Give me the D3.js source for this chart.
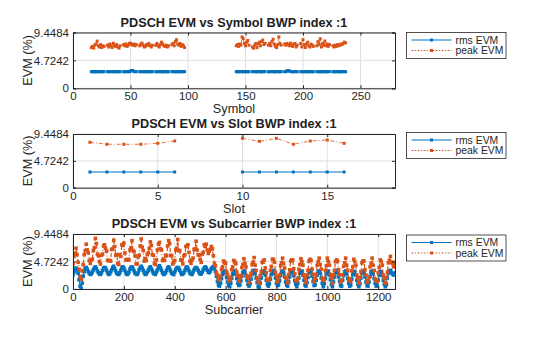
<!DOCTYPE html>
<html>
<head>
<meta charset="utf-8">
<script src="https://cdn.jsdelivr.net/npm/d3@7"></script>
<style>
  html, body { margin: 0; padding: 0; background: #fff; }
  svg { display: block; font-family: "Liberation Sans", Arial, Helvetica, sans-serif; }
</style>
</head>
<body>
<svg id="fig" width="560" height="337"></svg>
<script>
// ---- data ----
const yTicks = [0, 4.7242, 9.4484];
const yTickLabels = ["0", "4.7242", "9.4484"];

// slots carrying PDSCH
const slots = [1, 2, 3, 4, 5, 6, 10, 11, 12, 13, 14, 15, 16];
const firstPdschSymbol = 2;
const symbolsPerSlot = 14;

// per-symbol EVM (12 PDSCH symbols per slot)
const rmsSymbol = [
  [2.82, 2.80, 2.83, 2.81, 2.79, 2.82, 2.84, 2.80, 2.81, 2.83, 2.80, 2.82],
  [2.81, 2.83, 2.80, 2.82, 2.84, 2.81, 2.80, 2.82, 2.83, 2.81, 2.80, 2.82],
  [2.80, 2.82, 2.81, 2.83, 2.82, 2.80, 2.95, 2.98, 3.02, 2.84, 2.81, 2.82],
  [2.82, 2.81, 2.83, 2.80, 2.82, 2.81, 2.83, 2.82, 2.80, 2.81, 2.83, 2.82],
  [2.81, 2.80, 2.82, 2.83, 2.81, 2.82, 2.80, 2.81, 2.83, 2.82, 2.80, 2.81],
  [2.83, 2.81, 2.82, 2.80, 2.81, 2.83, 2.82, 2.80, 2.81, 2.82, 2.83, 2.81],
  [2.82, 2.80, 2.81, 2.83, 2.82, 2.81, 2.80, 2.82, 2.83, 2.81, 2.82, 2.80],
  [2.81, 2.83, 2.82, 2.80, 2.81, 2.82, 2.83, 2.81, 2.80, 2.82, 2.81, 2.83],
  [2.80, 2.82, 2.81, 2.83, 2.82, 2.80, 2.81, 2.83, 2.82, 2.81, 2.80, 2.82],
  [2.82, 2.81, 2.92, 3.00, 2.96, 2.84, 2.82, 2.80, 2.81, 2.83, 2.82, 2.81],
  [2.81, 2.82, 2.80, 2.83, 2.81, 2.82, 2.80, 2.81, 2.83, 2.82, 2.81, 2.80],
  [2.83, 2.81, 2.82, 2.80, 2.82, 2.81, 2.83, 2.82, 2.80, 2.81, 2.82, 2.83],
  [2.82, 2.80, 2.81, 2.82, 2.83, 2.81, 2.80, 2.82, 2.81, 2.83, 2.82, 2.80]
];
const peakSymbol = [
  [6.9, 7.1, 6.8, 7.3, 7.5, 7.99, 7.2, 7.0, 7.4, 6.9, 7.2, 7.1],
  [7.3, 7.0, 7.5, 7.2, 6.9, 7.64, 7.3, 7.1, 7.4, 7.0, 6.8, 7.2],
  [7.4, 7.2, 7.5, 7.1, 7.3, 7.6, 7.64, 7.4, 7.3, 7.5, 7.2, 7.4],
  [7.2, 7.5, 7.64, 7.3, 7.0, 7.1, 7.4, 7.3, 7.6, 7.2, 7.0, 7.3],
  [7.3, 7.6, 7.2, 7.0, 7.4, 7.81, 7.5, 7.2, 7.1, 7.3, 7.0, 7.2],
  [7.4, 7.6, 7.2, 7.9, 8.22, 7.5, 7.3, 7.6, 7.1, 7.4, 7.2, 6.9],
  [7.2, 7.4, 7.1, 7.5, 7.3, 8.69, 8.4, 7.6, 7.2, 7.8, 8.1, 7.3],
  [7.0, 6.8, 7.3, 7.6, 6.9, 7.5, 7.8, 7.2, 7.9, 8.16, 7.4, 7.6],
  [7.3, 7.6, 7.2, 7.9, 8.3, 7.5, 7.1, 6.9, 7.4, 8.69, 7.6, 7.3],
  [7.5, 7.3, 7.6, 7.4, 7.2, 7.64, 7.3, 7.1, 7.5, 7.6, 7.0, 7.3],
  [7.6, 7.0, 8.22, 7.4, 6.9, 7.5, 7.8, 7.2, 7.0, 7.5, 7.3, 7.1],
  [7.2, 7.9, 7.4, 8.39, 7.0, 7.6, 7.3, 8.0, 7.2, 7.5, 7.1, 7.4],
  [7.2, 7.0, 7.3, 7.1, 7.4, 7.2, 7.3, 7.5, 7.4, 7.6, 7.81, 7.7]
];

// per-slot EVM
const rmsSlot  = [2.76, 2.76, 2.76, 2.76, 2.76, 2.76, 2.76, 2.76, 2.76, 2.76, 2.76, 2.76, 2.76];
const peakSlot = [7.99, 7.64, 7.64, 7.64, 7.81, 8.22, 8.69, 8.16, 8.69, 7.64, 8.22, 8.39, 7.81];

// per-subcarrier EVM, every 4th subcarrier
const subcarrierStep = 4;
const rmsSubcarrier = [
  2.4, 2.9, 3.4, 3.6, 3.3, 2.7, 1.6, 0.5, 0.1,
  1.0, 2.2, 3.0, 3.5, 3.7, 3.4, 3.0, 2.7, 2.5,
  2.6, 2.9, 3.3, 3.6, 3.8, 3.5, 3.1, 2.8, 2.6,
  2.5, 2.8, 3.2, 3.6, 3.7, 3.6, 3.2, 2.8, 2.5,
  2.6, 2.9, 3.3, 3.7, 3.9, 3.5, 3.1, 2.7, 2.6,
  2.5, 2.8, 3.2, 3.6, 3.8, 3.6, 3.2, 2.8, 2.5,
  2.6, 2.9, 3.4, 3.7, 3.8, 3.5, 3.1, 2.7, 2.6,
  2.5, 2.8, 3.3, 3.6, 3.9, 3.6, 3.2, 2.8, 2.5,
  2.6, 2.9, 3.2, 3.6, 3.8, 3.5, 3.1, 2.7, 2.6,
  2.5, 2.9, 3.3, 3.7, 4.0, 3.6, 3.2, 2.8, 2.5,
  2.6, 2.8, 3.2, 3.6, 3.8, 3.5, 3.1, 2.7, 2.6,
  2.5, 2.9, 3.3, 3.6, 3.7, 3.6, 3.2, 2.8, 2.5,
  2.6, 2.8, 3.2, 3.6, 3.8, 3.5, 3.1, 2.7, 2.6,
  2.5, 2.9, 3.3, 3.6, 3.7, 3.5, 3.2, 2.8, 2.6,
  2.6, 2.9, 3.3, 3.6, 3.8, 3.6, 3.2, 2.9, 2.8,
  3.1, 3.5, 3.7,
  3.8, 3.5, 3.0, 2.2, 1.3, 0.7, 0.5, 1.0, 1.8,
  2.5, 2.9, 3.1, 2.8, 2.0, 1.2, 0.6, 0.4, 1.0,
  1.8, 2.5, 3.0, 3.1, 2.6, 1.8, 1.0, 0.6, 0.7,
  1.4, 2.2, 2.8, 3.1, 2.9, 2.3, 1.5, 0.8, 0.5,
  0.9, 1.7, 2.5, 3.0, 3.2, 2.7, 1.9, 1.1, 0.4,
  0.3, 1.0, 1.9, 2.7, 3.1, 3.0, 2.4, 1.5, 0.8,
  0.5, 0.9, 1.7, 2.5, 3.0, 3.2, 2.7, 1.9, 1.0,
  0.6, 0.7, 1.4, 2.3, 2.9, 3.1, 2.8, 2.1, 1.2,
  0.7, 0.5, 1.2, 2.1, 2.8, 3.1, 2.9, 2.3, 1.4,
  0.8, 0.4, 1.0, 1.9, 2.7, 3.1, 3.0, 2.4, 1.5,
  0.7, 0.5, 1.1, 2.0, 2.8, 3.2, 2.9, 2.2, 1.3,
  0.6, 0.7, 1.5, 2.4, 3.0, 3.1, 2.7, 1.9, 1.0,
  0.4, 0.9, 1.8, 2.6, 3.1, 3.0, 2.4, 1.6, 0.8,
  0.4, 1.2, 2.1, 2.8, 3.2, 2.8, 2.1, 1.3, 0.6,
  0.5, 1.5, 2.3, 2.9, 3.1, 2.6, 1.8, 1.0, 0.5,
  0.7, 1.7, 2.5, 3.0, 3.0, 2.4, 1.5, 0.8, 0.4,
  0.9, 1.9, 2.7, 3.1, 2.8, 2.1, 1.2, 0.6, 0.5,
  1.2, 2.2, 2.9, 3.1, 2.6, 1.8, 1.0, 0.5, 0.6,
  1.5, 2.4, 3.0, 3.0, 2.3, 1.5, 0.8, 0.4, 0.8,
  1.9, 2.7, 3.1, 3.2, 2.9, 2.6, 2.4, 2.6, 2.8
];
const peakSubcarrier = [
  4.3, 5.6, 6.1, 7.0, 5.9, 4.6, 3.4, 2.1, 1.7,
  3.1, 4.2, 5.9, 6.6, 7.7, 6.7, 6.2, 4.9, 4.4,
  5.0, 5.1, 6.6, 7.1, 8.7, 7.8, 6.0, 5.7, 4.7,
  4.3, 5.8, 6.0, 7.4, 7.6, 7.0, 6.5, 4.9, 4.9,
  4.9, 4.8, 6.8, 6.9, 8.4, 7.3, 5.8, 5.9, 4.4,
  4.2, 5.9, 5.6, 7.6, 7.5, 7.9, 6.2, 5.0, 5.0,
  5.1, 5.0, 6.7, 7.1, 8.3, 6.6, 6.4, 5.7, 4.3,
  4.3, 5.5, 5.8, 7.4, 8.6, 7.2, 6.6, 4.8, 5.2,
  4.9, 5.9, 6.2, 7.0, 8.1, 7.5, 5.9, 5.8, 4.4,
  4.2, 5.0, 6.7, 7.7, 8.0, 6.9, 6.7, 4.9, 5.1,
  4.9, 5.8, 5.7, 7.4, 8.3, 7.8, 5.8, 5.7, 4.3,
  4.6, 4.9, 6.7, 7.0, 8.5, 6.6, 6.6, 5.0, 4.9,
  4.3, 5.7, 5.9, 7.3, 7.4, 7.6, 6.3, 4.8, 4.4,
  5.0, 5.3, 6.8, 6.9, 8.2, 6.7, 5.9, 5.8, 5.1,
  4.6, 6.0, 6.3, 7.6, 7.3, 7.7, 6.7, 6.1, 6.5,
  6.8, 7.3, 6.9,
  5.7, 4.4, 4.0, 2.8, 2.4, 1.6, 1.8, 2.2, 3.4,
  3.8, 4.8, 4.6, 4.4, 3.0, 2.5, 1.4, 1.6, 2.0,
  3.3, 3.8, 4.9, 4.7, 4.4, 2.9, 2.3, 1.3, 1.9,
  2.3, 3.7, 4.2, 5.2, 4.4, 3.8, 2.3, 1.9, 1.1,
  2.1, 2.7, 4.2, 4.6, 5.4, 4.1, 3.2, 1.8, 1.4,
  1.0, 2.3, 3.0, 4.6, 4.8, 5.0, 3.6, 2.8, 1.5,
  1.6, 1.7, 3.2, 3.9, 5.1, 5.1, 4.6, 2.9, 2.2,
  1.3, 1.8, 2.4, 4.0, 4.5, 5.3, 4.4, 3.6, 2.0,
  1.8, 1.1, 2.5, 3.3, 4.8, 5.0, 5.0, 3.5, 2.6,
  1.5, 1.4, 1.8, 3.4, 4.2, 5.2, 4.7, 4.1, 2.4,
  1.8, 1.1, 2.4, 3.2, 4.8, 5.1, 4.9, 3.4, 2.5,
  1.3, 1.8, 2.5, 4.1, 4.7, 5.3, 4.2, 3.4, 1.8,
  1.5, 1.7, 3.2, 4.0, 5.3, 4.7, 4.1, 2.5, 1.9,
  1.0, 2.4, 3.2, 4.7, 5.0, 4.8, 3.3, 2.5, 1.2,
  1.5, 2.4, 3.9, 4.5, 5.3, 4.1, 3.2, 1.7, 1.5,
  1.3, 3.1, 3.8, 5.1, 4.7, 4.1, 2.4, 1.8, 1.0,
  2.0, 3.0, 4.5, 4.8, 4.8, 3.3, 2.4, 1.2, 1.5,
  2.0, 3.8, 4.4, 5.3, 4.1, 3.2, 1.7, 1.5, 1.3,
  2.8, 3.7, 5.0, 4.7, 4.1, 2.4, 1.8, 1.0, 2.0,
  2.9, 4.5, 4.9, 5.6, 4.6, 4.4, 3.8, 4.6, 4.4
];

const seriesNames = ["rms EVM", "peak EVM"];
const colors = { rms: "#0072BD", peak: "#D95319" };

// ---- build point lists (null marks a break in the line) ----
function symbolSeries(values) {
  const pts = [];
  slots.forEach((s, k) => {
    values[k].forEach((v, j) => pts.push({ x: s * symbolsPerSlot + firstPdschSymbol + j, y: v }));
    pts.push(null);
  });
  return pts;
}
function slotSeries(values) {
  const pts = [];
  slots.forEach((s, k) => {
    if (k > 0 && s !== slots[k - 1] + 1) pts.push(null);
    pts.push({ x: s, y: values[k] });
  });
  return pts;
}
function subcarrierSeries(values) {
  return values.map((v, i) => ({ x: i * subcarrierStep, y: v }));
}

const panels = [
  {
    title: "PDSCH EVM vs Symbol BWP index :1", xlabel: "Symbol",
    top: 32.5, bottom: 88.3, xDomain: [0, 280], xTicks: [0, 50, 100, 150, 200, 250],
    rms: symbolSeries(rmsSymbol), peak: symbolSeries(peakSymbol), legendTop: 32.5,
    marker: 3, peakWidth: 0.8
  },
  {
    title: "PDSCH EVM vs Slot BWP index :1", xlabel: "Slot",
    top: 134, bottom: 187.7, xDomain: [0, 19], xTicks: [0, 5, 10, 15],
    rms: slotSeries(rmsSlot), peak: slotSeries(peakSlot), legendTop: 132.5,
    marker: 3, peakWidth: 0.8
  },
  {
    title: "PDSCH EVM vs Subcarrier BWP index :1", xlabel: "Subcarrier",
    top: 234, bottom: 289, xDomain: [0, 1266], xTicks: [0, 200, 400, 600, 800, 1000, 1200],
    rms: subcarrierSeries(rmsSubcarrier), peak: subcarrierSeries(peakSubcarrier), legendTop: 235,
    marker: 3.6, peakWidth: 1.2
  }
];

const svg = d3.select("#fig");
const left = 73, right = 395;
const axisColor = "#262626";
const gridColor = "#e0e0e0";
const tickFont = 11.5, labelFont = 12.7;

panels.forEach(p => {
  const x = d3.scaleLinear().domain(p.xDomain).range([left, right]);
  const y = d3.scaleLinear().domain([0, 9.4484]).range([p.bottom, p.top]);
  const g = svg.append("g");

  // grid
  g.append("g").selectAll("line").data(p.xTicks).join("line")
    .attr("x1", d => x(d)).attr("x2", d => x(d))
    .attr("y1", p.top).attr("y2", p.bottom)
    .attr("stroke", gridColor).attr("stroke-width", 1);
  g.append("g").selectAll("line").data(yTicks).join("line")
    .attr("x1", left).attr("x2", right)
    .attr("y1", d => y(d)).attr("y2", d => y(d))
    .attr("stroke", gridColor).attr("stroke-width", 1);

  // series
  const line = d3.line().defined(d => d !== null).x(d => x(d.x)).y(d => y(d.y));
  const clipId = "clip" + Math.round(p.top);
  g.append("clipPath").attr("id", clipId).append("rect")
    .attr("x", left).attr("y", p.top).attr("width", right - left).attr("height", p.bottom - p.top);
  const plot = g.append("g").attr("clip-path", `url(#${clipId})`);
  const m = p.marker;

  [["rms", null], ["peak", "4,2,1,2"]].forEach(([key, dash]) => {
    const pts = p[key];
    plot.append("path").datum(pts)
      .attr("d", line)
      .attr("fill", "none")
      .attr("stroke", colors[key])
      .attr("stroke-width", key === "rms" ? 1.1 : p.peakWidth)
      .attr("stroke-dasharray", dash);
    plot.append("g").selectAll("rect").data(pts.filter(d => d !== null)).join("rect")
      .attr("x", d => x(d.x) - m / 2).attr("y", d => y(d.y) - m / 2)
      .attr("width", m).attr("height", m)
      .attr("fill", colors[key]);
  });

  // axes box with inward ticks
  const xAxisB = d3.axisBottom(x).tickValues(p.xTicks).tickSize(-3).tickPadding(4).tickFormat(d3.format("d"));
  const xAxisT = d3.axisTop(x).tickValues(p.xTicks).tickSize(-3).tickFormat("");
  const yAxisL = d3.axisLeft(y).tickValues(yTicks).tickSize(-3).tickPadding(4).tickFormat((d, i) => yTickLabels[i]);
  const yAxisR = d3.axisRight(y).tickValues(yTicks).tickSize(-3).tickFormat("");

  const styleAxis = sel => {
    sel.select(".domain").attr("stroke", axisColor).attr("stroke-width", 1);
    sel.selectAll(".tick line").attr("stroke", axisColor);
    sel.selectAll(".tick text").attr("fill", axisColor).attr("font-size", tickFont)
      .attr("font-family", "Liberation Sans, Arial, sans-serif");
  };
  g.append("g").attr("transform", `translate(0,${p.bottom})`).call(xAxisB).call(styleAxis);
  g.append("g").attr("transform", `translate(0,${p.top})`).call(xAxisT).call(styleAxis);
  g.append("g").attr("transform", `translate(${left},0)`).call(yAxisL).call(styleAxis);
  g.append("g").attr("transform", `translate(${right},0)`).call(yAxisR).call(styleAxis);

  // labels
  g.append("text").attr("x", (left + right) / 2).attr("y", p.top - 6)
    .attr("text-anchor", "middle").attr("font-weight", "bold").attr("font-size", labelFont)
    .attr("fill", "#212121").text(p.title);
  g.append("text").attr("x", (left + right) / 2).attr("y", p.bottom + 25)
    .attr("text-anchor", "middle").attr("font-size", labelFont).attr("fill", axisColor).text(p.xlabel);
  g.append("text")
    .attr("transform", `translate(32,${(p.top + p.bottom) / 2}) rotate(-90)`)
    .attr("text-anchor", "middle").attr("font-size", labelFont).attr("fill", axisColor).text("EVM (%)");

  // legend
  const lg = g.append("g").attr("transform", `translate(406.5,${p.legendTop})`);
  lg.append("rect").attr("width", 99.5).attr("height", 26).attr("fill", "#fff")
    .attr("stroke", axisColor).attr("stroke-width", 0.8);
  [["rms", null], ["peak", "2,1.5,1,1.5"]].forEach(([key, dash], i) => {
    const yy = 7.5 + i * 10.5;
    lg.append("line").attr("x1", 5).attr("x2", 45).attr("y1", yy).attr("y2", yy)
      .attr("stroke", colors[key]).attr("stroke-width", 1).attr("stroke-dasharray", dash);
    lg.append("rect").attr("x", 23.5).attr("y", yy - 1.5).attr("width", 3).attr("height", 3)
      .attr("fill", colors[key]);
    lg.append("text").attr("x", 49).attr("y", yy + 3.5).attr("font-size", 10.4)
      .attr("fill", axisColor).text(seriesNames[i]);
  });
});
</script>
</body>
</html>
